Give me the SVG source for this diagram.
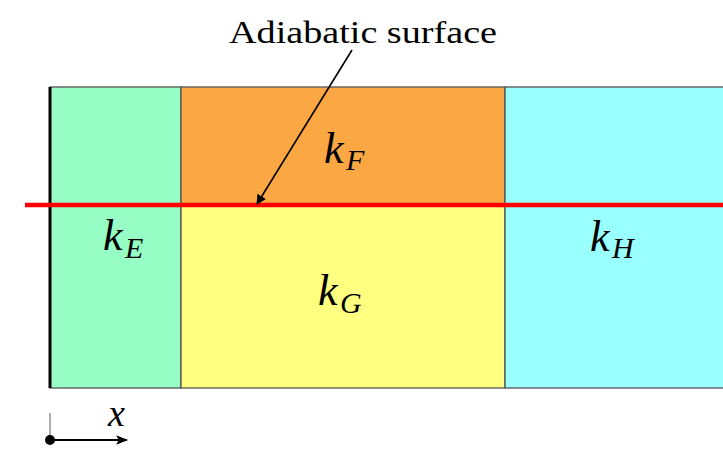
<svg xmlns="http://www.w3.org/2000/svg" width="723" height="449" viewBox="0 0 723 449">
<defs>
<style>
.cell{stroke:#555;stroke-width:1.3}
.lbl{font-family:"Liberation Serif","DejaVu Serif","Times New Roman",serif;font-style:italic;font-size:44px;fill:#000}
.sub{font-size:30px}
.ttl{font-family:"Liberation Serif","DejaVu Serif","Times New Roman",serif;font-size:32px;fill:#000}
</style>
<marker id="ah" viewBox="0 0 10 10" refX="9" refY="5" markerWidth="10" markerHeight="10" markerUnits="userSpaceOnUse" orient="auto">
<path d="M0,0 L10,5 L0,10 z" fill="#000"/>
</marker>
<marker id="ah2" viewBox="0 0 10 10" refX="9" refY="5" markerWidth="12" markerHeight="12" markerUnits="userSpaceOnUse" orient="auto">
<path d="M0,1 L10,5 L0,9 L2,5 z" fill="#000"/>
</marker>
</defs>
<rect width="723" height="449" fill="#fff"/>
<g id="regionE"><rect class="cell" x="50" y="87" width="131" height="301" fill="#96fec4"/><text class="lbl" x="103" y="250">k<tspan class="sub" x="125" dy="8">E</tspan></text></g>
<g id="regionF"><rect class="cell" x="181" y="87" width="324" height="118" fill="#fba744"/><text class="lbl" x="324" y="163">k<tspan class="sub" x="346" dy="7">F</tspan></text></g>
<g id="regionG"><rect class="cell" x="181" y="205" width="324" height="183" fill="#ffff80"/><text class="lbl" x="318" y="305">k<tspan class="sub" x="340" dy="8">G</tspan></text></g>
<g id="regionH"><rect class="cell" x="505" y="87" width="220" height="301" fill="#99ffff"/><text class="lbl" x="590" y="251">k<tspan class="sub" x="612" dy="7">H</tspan></text></g>
<g id="wall"><line x1="50" y1="87" x2="50" y2="388" stroke="#000" stroke-width="3"/></g>
<g id="surface"><line x1="25" y1="205" x2="723" y2="205" stroke="#ff0000" stroke-width="4.5"/></g>
<g id="title"><text class="ttl" x="229" y="43" textLength="268" lengthAdjust="spacingAndGlyphs">Adiabatic surface</text></g>
<g id="connectors">
<line x1="352" y1="50" x2="257" y2="204" stroke="#000" stroke-width="1.6" marker-end="url(#ah)"/>
</g>
<g id="axis">
<line x1="50" y1="413" x2="50" y2="440" stroke="#777" stroke-width="1.2"/>
<line x1="50" y1="440" x2="127" y2="440" stroke="#000" stroke-width="2" marker-end="url(#ah2)"/>
<circle cx="50" cy="440" r="5" fill="#000"/>
<text class="lbl" x="108" y="426" style="font-size:38px">x</text>
</g>
</svg>
